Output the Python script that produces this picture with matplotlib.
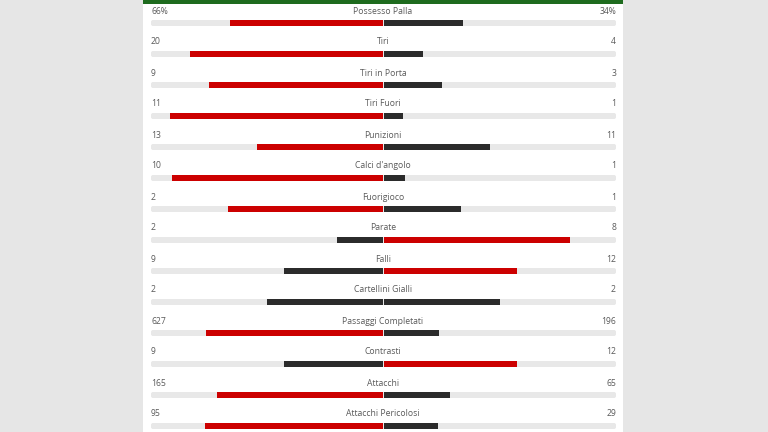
import matplotlib.pyplot as plt
from matplotlib import patches

# match stats
stats = ['Possesso Palla', 'Tiri', 'Tiri in Porta', 'Tiri Fuori', 'Punizioni',
         "Calci d'angolo", 'Fuorigioco', 'Parate', 'Falli', 'Cartellini Gialli',
         'Passaggi Completati', 'Contrasti', 'Attacchi', 'Attacchi Pericolosi']
home = [66, 20, 9, 11, 13, 10, 2, 2, 9, 2, 627, 9, 165, 95]
away = [34, 4, 3, 1, 11, 1, 1, 8, 12, 2, 196, 12, 65, 29]
suffix = ['%', '', '', '', '', '', '', '', '', '', '', '', '', '']

RED = '#cc0000'
DARK = '#2b2b2b'
TRACK = '#e8e8e8'
TEXT = '#5a5a5a'

fig = plt.figure(figsize=(7.68, 4.32), dpi=100)
fig.patch.set_facecolor('#e6e6e6')
ax = fig.add_axes([0, 0, 1, 1])
ax.set_xlim(0, 768)
ax.set_ylim(432, 0)
ax.axis('off')

# white panel + green top strip
ax.add_patch(patches.Rectangle((143, 0), 480, 432, facecolor='white', edgecolor='none', zorder=0))
ax.add_patch(patches.Rectangle((143, 0), 480, 3.5, facecolor='#1e6b1e', edgecolor='none', zorder=1))

left, right, center = 151, 616, 383
half = center - left
row_h = 31
bar_h = 6

font = dict(family=['Open Sans', 'DejaVu Sans'], fontsize=6.2, color=TEXT)

for i, name in enumerate(stats):
    ty = 11 + i * row_h
    by = 23 + i * row_h
    h, a = home[i], away[i]
    tot = h + a
    hw = half * h / tot
    aw = half * a / tot
    hcol = RED if h > a else DARK
    acol = RED if a > h else DARK

    # background track
    ax.add_patch(patches.FancyBboxPatch((left, by - bar_h / 2), right - left, bar_h,
                                        boxstyle='round,pad=0,rounding_size=2',
                                        facecolor=TRACK, edgecolor='none', zorder=2))
    ax.barh(by, -hw, left=center, height=bar_h, color=hcol, zorder=3)
    ax.barh(by, aw, left=center + 1, height=bar_h, color=acol, zorder=3)

    ax.text(left, ty, f'{h}{suffix[i]}', ha='left', va='center', **font)
    ax.text(center, ty, name, ha='center', va='center', **font)
    ax.text(right, ty, f'{a}{suffix[i]}', ha='right', va='center', **font)

plt.savefig('out.png', dpi=100, facecolor=fig.get_facecolor())
